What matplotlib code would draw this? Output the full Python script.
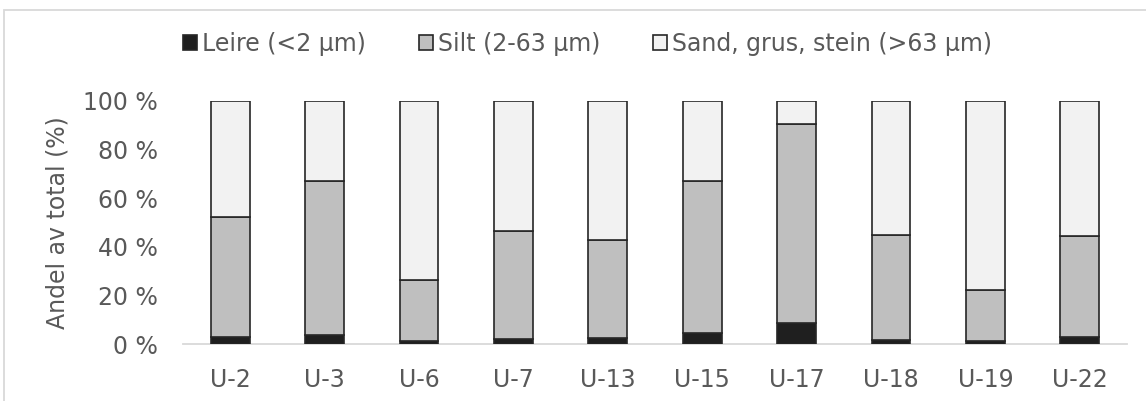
import matplotlib.pyplot as plt
import matplotlib.patches as mpatches
import numpy as np

# Samples and grain size fractions (% of total)
samples = ["U-2", "U-3", "U-6", "U-7", "U-13", "U-15", "U-17", "U-18", "U-19", "U-22"]
clay = [2.8, 3.6, 1.1, 1.9, 2.3, 4.4, 8.8, 1.6, 1.1, 2.7]
silt = [49.4, 63.5, 25.2, 44.5, 40.4, 62.5, 81.7, 43.1, 21.1, 41.8]
sand = [47.8, 32.9, 73.7, 53.6, 57.3, 33.1, 9.5, 55.3, 77.8, 55.5]

labels = ["Leire (<2 µm)", "Silt (2-63 µm)", "Sand, grus, stein (>63 µm)"]
colors = ["#1f1f1f", "#bfbfbf", "#f2f2f2"]
textcol = "#595959"

plt.rcParams["font.family"] = ["DejaVu Sans"]

fig = plt.figure(figsize=(11.46, 4.01), dpi=100)
ax = fig.add_axes([183 / 1146, 1 - 344 / 401, (1127 - 183) / 1146, (344 - 100.7) / 401])

x = np.arange(len(samples))
bottom = np.zeros(len(samples))
for vals, lab, col in zip([clay, silt, sand], labels, colors):
    ax.bar(x, vals, width=0.41, bottom=bottom, color=col, edgecolor="#262626",
           linewidth=1.2, label=lab, zorder=3)
    bottom += np.array(vals)

ax.set_xlim(-0.5, len(samples) - 0.5)
ax.set_ylim(0, 100)
ax.set_yticks([0, 20, 40, 60, 80, 100])
ax.set_yticklabels([f"{v} %" for v in range(0, 101, 20)])
ax.set_xticks(x)
ax.set_xticklabels(samples)
ax.tick_params(axis="both", length=0, labelsize=17, colors=textcol)
ax.tick_params(axis="y", pad=18)
ax.tick_params(axis="x", pad=17)
ax.set_ylabel("Andel av total (%)", fontsize=17, color=textcol, labelpad=10)

for s in ["top", "right", "left"]:
    ax.spines[s].set_visible(False)
ax.spines["bottom"].set_color("#d9d9d9")
ax.spines["bottom"].set_linewidth(1.3)

leg = fig.legend(loc="center", bbox_to_anchor=(587.5 / 1146, 1 - 44 / 401), ncol=3,
                 frameon=False, fontsize=17, handlelength=0.6, handleheight=0.6,
                 handletextpad=0.2, columnspacing=2.25, borderaxespad=0)
for t in leg.get_texts():
    t.set_color(textcol)

# outer chart frame
frame = mpatches.Rectangle((4 / 1146, -0.1), 1.2, 1 - 10 / 401 + 0.1,
                           transform=fig.transFigure, fill=False,
                           edgecolor="#d9d9d9", linewidth=1.3)
fig.patches.append(frame)

fig.savefig("out.png", dpi=100)
